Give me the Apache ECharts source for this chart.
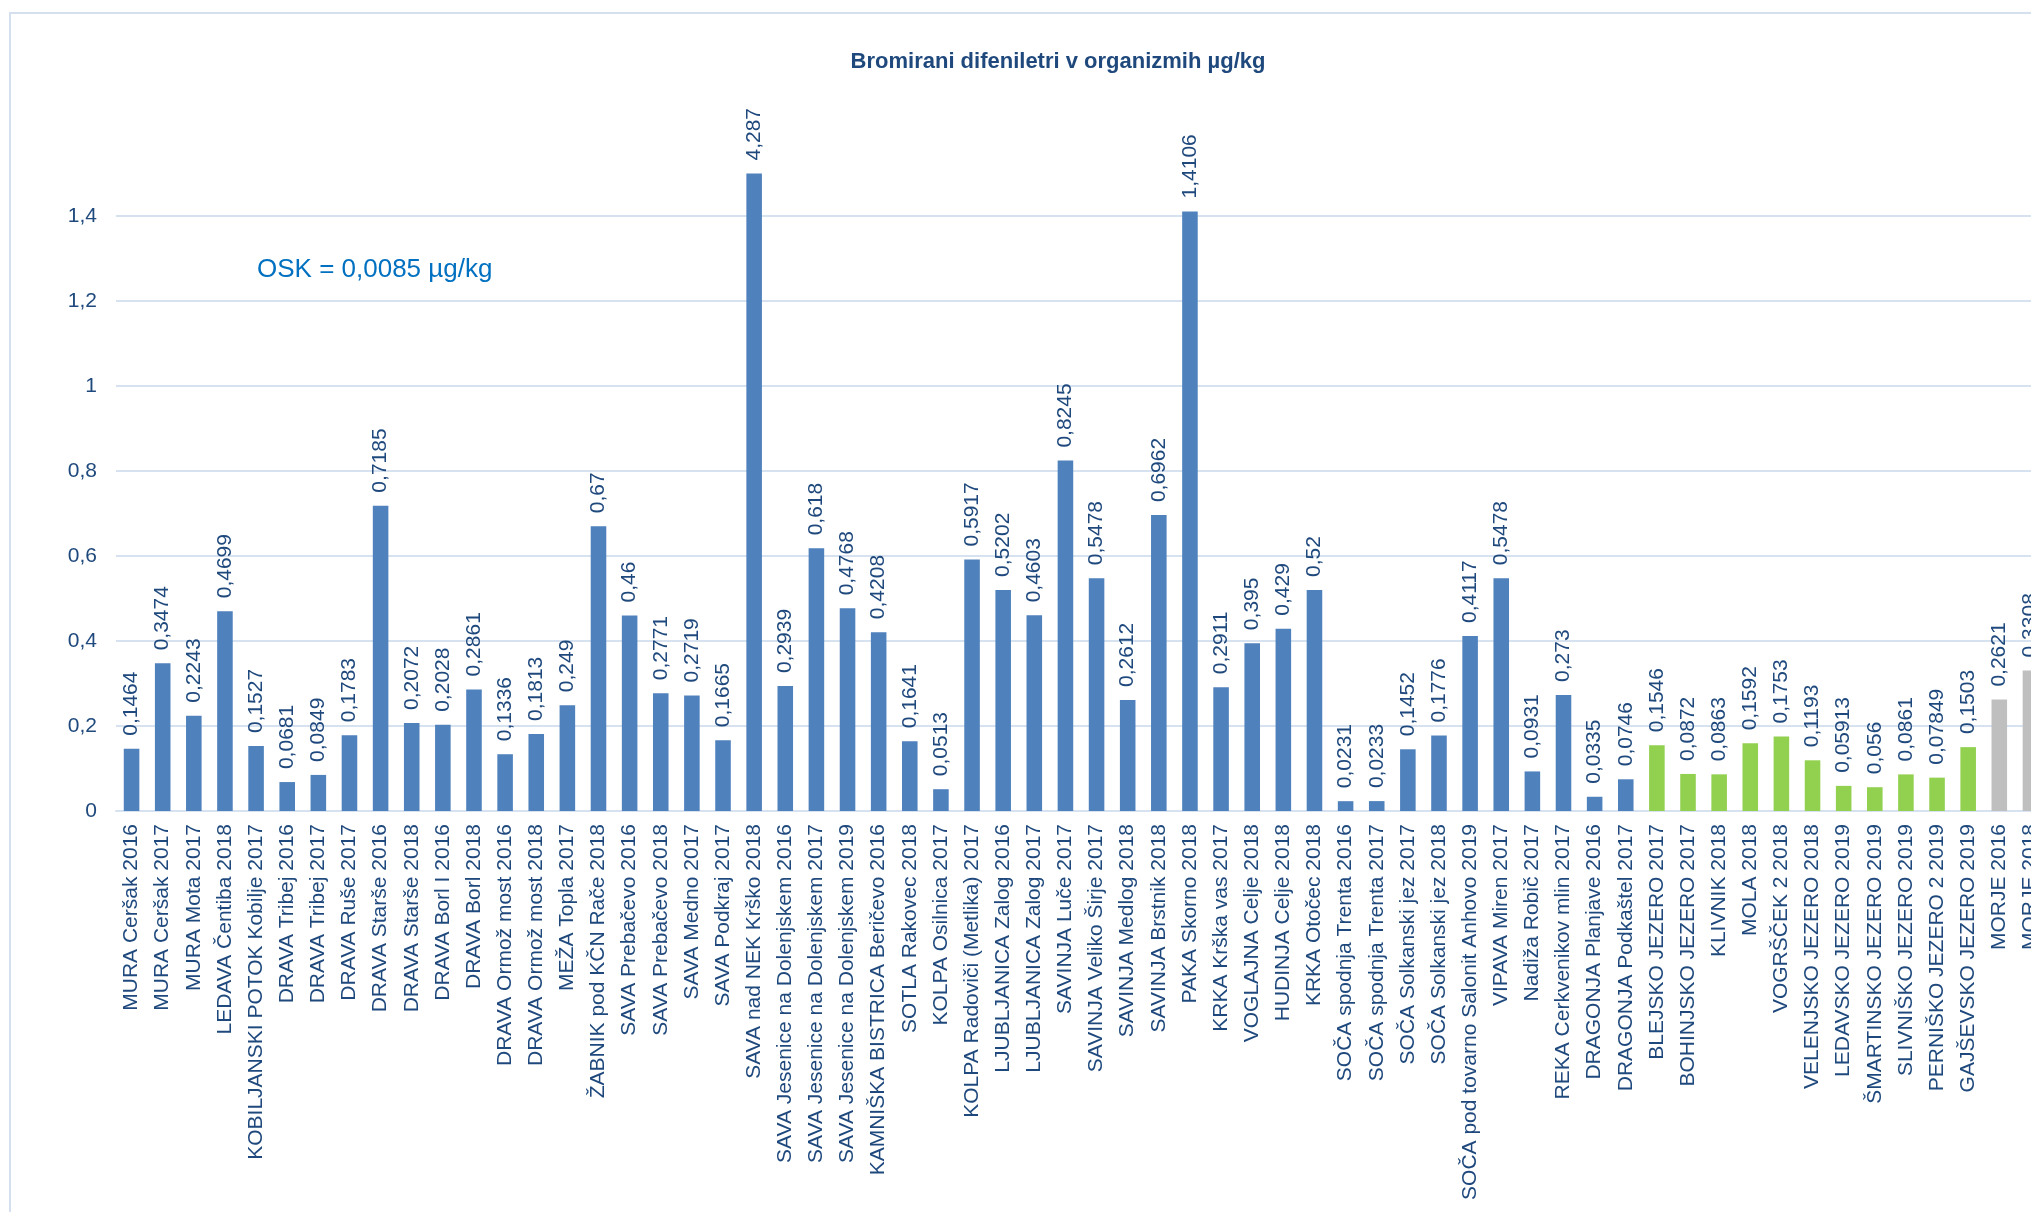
<!DOCTYPE html>
<html>
<head>
<meta charset="utf-8">
<title>Bromirani difeniletri v organizmih</title>
<script src="https://cdn.jsdelivr.net/npm/echarts@6/dist/echarts.min.js"></script>
<style>
  html, body { margin: 0; padding: 0; overflow: hidden; background: #fff; }
  #chart { position: absolute; left: 0; top: 0; width: 2080px; height: 1212px; }
</style>
</head>
<body>
<div id="chart"></div>
<script>
// rivers (blue)
const riverSites = [
  'MURA Ceršak 2016', 'MURA Ceršak 2017', 'MURA Mota 2017', 'LEDAVA Čentiba 2018',
  'KOBILJANSKI POTOK Kobilje 2017', 'DRAVA Tribej 2016', 'DRAVA Tribej 2017', 'DRAVA Ruše 2017',
  'DRAVA Starše 2016', 'DRAVA Starše 2018', 'DRAVA Borl I 2016', 'DRAVA Borl 2018',
  'DRAVA Ormož most 2016', 'DRAVA Ormož most 2018', 'MEŽA Topla 2017', 'ŽABNIK pod KČN Rače 2018',
  'SAVA Prebačevo 2016', 'SAVA Prebačevo 2018', 'SAVA Medno 2017', 'SAVA Podkraj 2017',
  'SAVA nad NEK Krško 2018', 'SAVA Jesenice na Dolenjskem 2016', 'SAVA Jesenice na Dolenjskem 2017',
  'SAVA Jesenice na Dolenjskem 2019', 'KAMNIŠKA BISTRICA Beričevo 2016', 'SOTLA Rakovec 2018',
  'KOLPA Osilnica 2017', 'KOLPA Radoviči (Metlika) 2017', 'LJUBLJANICA Zalog 2016',
  'LJUBLJANICA Zalog 2017', 'SAVINJA Luče 2017', 'SAVINJA Veliko Širje 2017', 'SAVINJA Medlog 2018',
  'SAVINJA Brstnik 2018', 'PAKA Skorno 2018', 'KRKA Krška vas 2017', 'VOGLAJNA Celje 2018',
  'HUDINJA Celje 2018', 'KRKA Otočec 2018', 'SOČA spodnja Trenta 2016', 'SOČA spodnja Trenta 2017',
  'SOČA Solkanski jez 2017', 'SOČA Solkanski jez 2018', 'SOČA pod tovarno Salonit Anhovo 2019',
  'VIPAVA Miren 2017', 'Nadiža Robič 2017', 'REKA Cerkvenikov mlin 2017', 'DRAGONJA Planjave 2016',
  'DRAGONJA Podkaštel 2017'
]
const riverValues = [
  0.1464, 0.3474, 0.2243, 0.4699,
  0.1527, 0.0681, 0.0849, 0.1783,
  0.7185, 0.2072, 0.2028, 0.2861,
  0.1336, 0.1813, 0.249, 0.67,
  0.46, 0.2771, 0.2719, 0.1665,
  4.287, 0.2939, 0.618,
  0.4768, 0.4208, 0.1641,
  0.0513, 0.5917, 0.5202,
  0.4603, 0.8245, 0.5478, 0.2612,
  0.6962, 1.4106, 0.2911, 0.395,
  0.429, 0.52, 0.0231, 0.0233,
  0.1452, 0.1776, 0.4117,
  0.5478, 0.0931, 0.273, 0.0335,
  0.0746
]
// lakes (green)
const lakeSites = [
  'BLEJSKO JEZERO 2017', 'BOHINJSKO JEZERO 2017', 'KLIVNIK 2018', 'MOLA 2018', 'VOGRŠČEK 2 2018',
  'VELENJSKO JEZERO 2018', 'LEDAVSKO JEZERO 2019', 'ŠMARTINSKO JEZERO 2019', 'SLIVNIŠKO JEZERO 2019',
  'PERNIŠKO JEZERO 2 2019', 'GAJŠEVSKO JEZERO 2019'
]
const lakeValues = [0.1546, 0.0872, 0.0863, 0.1592, 0.1753, 0.1193, 0.05913, 0.056, 0.0861, 0.07849, 0.1503]
// sea (grey)
const seaSites = ['MORJE 2016', 'MORJE 2018']
const seaValues = [0.2621, 0.3308]

const yTicks = [0, 0.2, 0.4, 0.6, 0.8, 1, 1.2, 1.4]
const yMax = 1.5

const groupColors = ['#4F81BD', '#92D050', '#BFBFBF']
const textColor = '#1F497D'
const lineColor = '#D7E2F0'
const narrowFont = "'Liberation Sans Narrow', 'Arial Narrow', 'Liberation Sans', sans-serif"

const categories = riverSites.concat( lakeSites, seaSites )
const rawValues = riverValues.concat( lakeValues, seaValues )

function getBarData() {
  const data = []
  ;[riverValues, lakeValues, seaValues].forEach( ( arr, g ) => {
    arr.forEach( v => {
      data.push( {
        value : Math.min( v, yMax ),
        itemStyle : { color : groupColors[g] }
      } )
    } )
  } )
  return data
}

function fmt( v ) {
  return String( v ).replace( '.', ',' )
}

const chart = echarts.init( document.getElementById( 'chart' ) )

chart.setOption( {
  animation : false,
  backgroundColor : '#ffffff',
  graphic : [
    {
      type : 'rect',
      silent : true,
      z : -10,
      shape : { x : 10, y : 13, width : 2300, height : 1400 },
      style : { fill : 'none', stroke : '#D5E0EE', lineWidth : 2 }
    },
    {
      type : 'text',
      x : 1058,
      y : 62,
      style : {
        text : 'Bromirani difeniletri v organizmih µg/kg',
        fill : '#1F497D',
        font : 'bold 22px "Liberation Sans", Arial, sans-serif',
        align : 'center',
        verticalAlign : 'middle'
      }
    },
    {
      type : 'text',
      x : 257,
      y : 270,
      style : {
        text : 'OSK = 0,0085 µg/kg',
        fill : '#0070C0',
        font : '26px "Liberation Sans", Arial, sans-serif',
        align : 'left',
        verticalAlign : 'middle'
      }
    }
  ],
  grid : {
    left : 116,
    right : 34,
    top : 173.5,
    bottom : 401,
    containLabel : false
  },
  xAxis : {
    type : 'category',
    data : categories,
    axisLine : {
      lineStyle : { color : lineColor, width : 2 }
    },
    axisTick : { show : false },
    axisLabel : {
      interval : 0,
      rotate : 90,
      margin : 13,
      color : textColor,
      fontSize : 21,
      fontFamily : narrowFont
    }
  },
  yAxis : {
    type : 'value',
    min : 0,
    max : yMax,
    interval : 0.2,
    axisLine : { show : false },
    axisTick : { show : false },
    axisLabel : {
      margin : 19,
      color : textColor,
      fontSize : 21,
      fontFamily : narrowFont,
      showMaxLabel : false,
      formatter : v => ( yTicks.some( t => Math.abs( t - v ) < 1e-9 ) ? fmt( +v.toFixed( 1 ) ) : '' )
    },
    splitLine : {
      showMinLine : false,
      showMaxLine : false,
      lineStyle : { color : lineColor, width : 2 }
    }
  },
  series : [
    {
      type : 'bar',
      barWidth : '50%',
      data : getBarData(),
      label : {
        show : true,
        position : 'top',
        rotate : 90,
        align : 'left',
        verticalAlign : 'middle',
        distance : 13,
        color : textColor,
        fontSize : 21,
        fontFamily : narrowFont,
        formatter : p => fmt( rawValues[p.dataIndex] )
      }
    }
  ]
} )
</script>
</body>
</html>
